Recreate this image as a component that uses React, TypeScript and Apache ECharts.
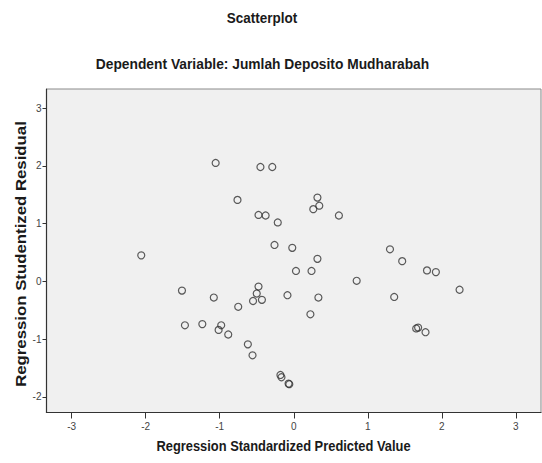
import React, { useEffect, useRef } from "react";
import * as echarts from "echarts";

const titleText = "Scatterplot";
const subtitleText = "Dependent Variable: Jumlah Deposito Mudharabah";
const xAxisName = "Regression Standardized Predicted Value";
const yAxisName = "Regression Studentized Residual";

const xTicks = [-3, -2, -1, 0, 1, 2, 3];
const yTicks = [-2, -1, 0, 1, 2, 3];

const predicted = [
  -2.06, -1.51, -1.47, -1.235, -1.08, -1.055, -1.015, -0.98, -0.885, -0.76,
  -0.75, -0.62, -0.557, -0.55, -0.5, -0.476, -0.476, -0.45, -0.43, -0.38,
  -0.29, -0.26, -0.216, -0.18, -0.166, -0.085, -0.07, -0.06, -0.02, 0.03,
  0.24, 0.225, 0.264, 0.32, 0.345, 0.32, 0.333, 0.61, 0.85, 1.3,
  1.357, 1.465, 1.654, 1.68, 1.78, 1.8, 1.92, 2.24,
];
const residual = [
  0.45, -0.16, -0.76, -0.74, -0.28, 2.05, -0.84, -0.76, -0.92, 1.41,
  -0.44, -1.09, -1.28, -0.34, -0.21, -0.09, 1.15, 1.98, -0.32, 1.14,
  1.98, 0.63, 1.02, -1.62, -1.66, -0.24, -1.77, -1.78, 0.58, 0.18,
  0.18, -0.57, 1.25, 1.45, 1.31, 0.39, -0.28, 1.14, 0.01, 0.555,
  -0.27, 0.35, -0.815, -0.8, -0.88, 0.19, 0.16, -0.145,
];

export default function App() {
  const ref = useRef<HTMLDivElement>(null);
  useEffect(() => {
    if (!ref.current) return;
    const chart = echarts.init(ref.current, null, { renderer: "svg" });
    const fam = "'Liberation Sans', Arial, sans-serif";
    const textStyle = (text: string, size: number) => ({
      text,
      font: `bold ${size}px ${fam}`,
      fill: "#1a1a1a",
      textAlign: "center",
      textVerticalAlign: "middle",
    });
    chart.setOption({
      animation: false,
      backgroundColor: "#ffffff",
      graphic: [
        { type: "text", x: 262, y: 18, scaleX: 0.9, style: textStyle(titleText, 15) },
        { type: "text", x: 262.5, y: 64, scaleX: 0.92, style: textStyle(subtitleText, 15) },
        { type: "text", x: 283.5, y: 446, scaleX: 0.86, style: textStyle(xAxisName, 15) },
        {
          type: "text",
          x: 21,
          y: 254,
          rotation: Math.PI / 2,
          scaleX: 1.12,
          style: textStyle(yAxisName, 15),
        },
      ],
      grid: {
        left: 46.5,
        right: 1,
        top: 89,
        bottom: 50.5,
        show: true,
        backgroundColor: "#f0f0f0",
        borderColor: "#8a8a8a",
        borderWidth: 1,
      },
      xAxis: {
        type: "value",
        min: -3.34,
        max: 3.34,
        splitLine: { show: false },
        axisLine: { show: true, onZero: false, lineStyle: { color: "#333", width: 1.2 } },
        axisTick: { show: true, length: 6, customValues: xTicks, lineStyle: { color: "#333" } },
        axisLabel: { customValues: xTicks, fontFamily: fam, fontSize: 10, color: "#444", margin: 9 },
      },
      yAxis: {
        type: "value",
        min: -2.27,
        max: 3.33,
        splitLine: { show: false },
        axisLine: { show: true, onZero: false, lineStyle: { color: "#333", width: 1.2 } },
        axisTick: { show: true, length: 4, customValues: yTicks, lineStyle: { color: "#333" } },
        axisLabel: { customValues: yTicks, fontFamily: fam, fontSize: 10, color: "#444", margin: 5 },
      },
      series: [
        {
          type: "scatter",
          data: predicted.map((x, i) => [x, residual[i]]),
          symbol: "circle",
          symbolSize: 7,
          itemStyle: { color: "transparent", borderColor: "#333", borderWidth: 1.2 },
        },
      ],
    });
    return () => chart.dispose();
  }, []);
  return (
    <div
      ref={ref}
      style={{ position: "fixed", left: 0, top: 0, width: 542, height: 463 }}
    />
  );
}
